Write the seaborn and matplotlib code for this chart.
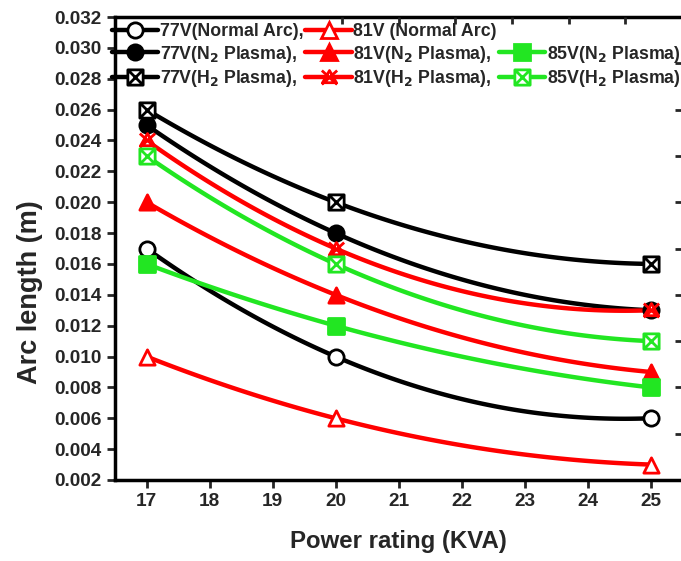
import numpy as np
import pandas as pd
import matplotlib
matplotlib.use("Agg")
import matplotlib.pyplot as plt
from matplotlib.path import Path
from matplotlib.lines import Line2D
import seaborn as sns

# ---- data ----
power = [17, 20, 25]
v77_normal = [0.017, 0.010, 0.006]
v81_normal = [0.010, 0.006, 0.003]
v77_n2 = [0.025, 0.018, 0.013]
v81_n2 = [0.020, 0.014, 0.009]
v85_n2 = [0.016, 0.012, 0.008]
v77_h2 = [0.026, 0.020, 0.016]
v81_h2 = [0.024, 0.017, 0.013]
v85_h2 = [0.023, 0.016, 0.011]

labels = ["77V(Normal Arc),", "81V (Normal Arc)",
          "77V(N$_\\mathbf{2}$ Plasma),", "81V(N$_\\mathbf{2}$ Plasma),", "85V(N$_\\mathbf{2}$ Plasma)",
          "77V(H$_\\mathbf{2}$ Plasma),", "81V(H$_\\mathbf{2}$ Plasma),", "85V(H$_\\mathbf{2}$ Plasma)"]
yticks = [0.002, 0.004, 0.006, 0.008, 0.010, 0.012, 0.014, 0.016, 0.018, 0.020,
          0.022, 0.024, 0.026, 0.028, 0.030, 0.032]
xticks = [17, 18, 19, 20, 21, 22, 23, 24, 25]

sns.set_style("white")
plt.rcParams['font.family'] = ['Liberation Sans', 'DejaVu Sans']
plt.rcParams['font.weight'] = 'bold'
plt.rcParams['mathtext.default'] = 'bf'

BLACK, RED, GREEN = "#000000", "#ff0000", "#22e622"

# custom markers
box_x = Path([(-1, -1), (1, -1), (1, 1), (-1, 1), (-1, -1), (-1, -1), (1, 1), (-1, 1), (1, -1)],
             [Path.MOVETO, Path.LINETO, Path.LINETO, Path.LINETO, Path.CLOSEPOLY,
              Path.MOVETO, Path.LINETO, Path.MOVETO, Path.LINETO])
tri_x = Path([(0, 1), (-1, -0.75), (1, -0.75), (0, 1), (-1.1, 1.0), (1.1, -1.0), (1.1, 1.0), (-1.1, -1.0)],
             [Path.MOVETO, Path.LINETO, Path.LINETO, Path.CLOSEPOLY,
              Path.MOVETO, Path.LINETO, Path.MOVETO, Path.LINETO])

series = [
    (v77_normal, BLACK, 'o', 'white', labels[0]),
    (v81_normal, RED, '^', 'white', labels[1]),
    (v77_n2, BLACK, 'o', BLACK, labels[2]),
    (v81_n2, RED, '^', RED, labels[3]),
    (v85_n2, GREEN, 's', GREEN, labels[4]),
    (v77_h2, BLACK, box_x, 'white', labels[5]),
    (v81_h2, RED, tri_x, 'white', labels[6]),
    (v85_h2, GREEN, box_x, 'white', labels[7]),
]

fig = plt.figure(figsize=(6.81, 5.61), dpi=100)
ax = fig.add_axes([115 / 681, 1 - 480 / 561, (682 - 115) / 681, (480 - 17) / 561])

LW = 3.2
MS = 11
handles = {}
for vals, col, mk, fc, lab in series:
    df = pd.DataFrame({"x": power, "y": vals})
    sns.regplot(data=df, x="x", y="y", order=2, ci=None, scatter=False, ax=ax,
                line_kws=dict(color=col, lw=LW, zorder=2))
    sns.scatterplot(data=df, x="x", y="y", marker=mk, s=MS ** 2, color=col,
                    facecolor=fc, edgecolor=col, linewidth=2.0, ax=ax, zorder=3,
                    legend=False)
    handles[lab] = Line2D([], [], color=col, lw=LW, marker=mk, markersize=MS,
                          markerfacecolor=fc, markeredgecolor=col, markeredgewidth=2.0)

blank = Line2D([], [], linestyle='none', marker=None)
order_h = [handles[labels[0]], handles[labels[2]], handles[labels[5]],
           handles[labels[1]], handles[labels[3]], handles[labels[6]],
           blank, handles[labels[4]], handles[labels[7]]]
order_l = [labels[0], labels[2], labels[5], labels[1], labels[3], labels[6], "", labels[4], labels[7]]

leg = ax.legend(order_h, order_l, ncol=3, loc='upper left',
                bbox_to_anchor=(112 / 681, 1 - 23 / 561), bbox_transform=fig.transFigure,
                frameon=False, handlelength=2.6, handletextpad=0.1,
                columnspacing=0.1, labelspacing=0.2, borderpad=0, borderaxespad=0,
                prop={'weight': 'bold', 'size': 12.8})

ax.set_xlim(16.5, 25.5)
ax.set_ylim(0.002, 0.032)
ax.set_xticks(xticks)
ax.set_yticks(yticks)
ax.set_yticklabels([f"{t:.3f}" for t in yticks])
ax.tick_params(axis='both', direction='out', length=6, width=2, labelsize=13.7,
               left=True, bottom=True)
for lab in ax.get_xticklabels() + ax.get_yticklabels():
    lab.set_fontweight('bold')
for s in ax.spines.values():
    s.set_linewidth(2.5)
    s.set_color('black')
ax.spines['right'].set_visible(False)

ax.set_xlabel("Power rating (KVA)", fontsize=17.3, fontweight='bold', labelpad=14)
ax.set_ylabel("Arc length (m)", fontsize=19.5, fontweight='bold')
ax.yaxis.set_label_coords(-0.127, 0.405)

# decorative secondary ticks on right and top
ax_r = ax.twinx()
ax_r.set_ylim(0.002, 0.032)
ax_r.set_yticks([0.005, 0.008, 0.011, 0.014, 0.017, 0.020, 0.023, 0.026, 0.029])
ax_r.tick_params(axis='y', direction='in', length=5, width=2, labelright=False)
ax_t = ax.twiny()
ax_t.set_xlim(16.5, 25.5)
ax_t.set_xticks([20.1, 21.0, 21.9, 22.8, 23.7, 24.6])
ax_t.tick_params(axis='x', direction='in', length=5, width=2, labeltop=False)
for a in (ax_r, ax_t):
    for s in a.spines.values():
        s.set_visible(False)
    a.grid(False)

fig.savefig("out.png", dpi=100)
